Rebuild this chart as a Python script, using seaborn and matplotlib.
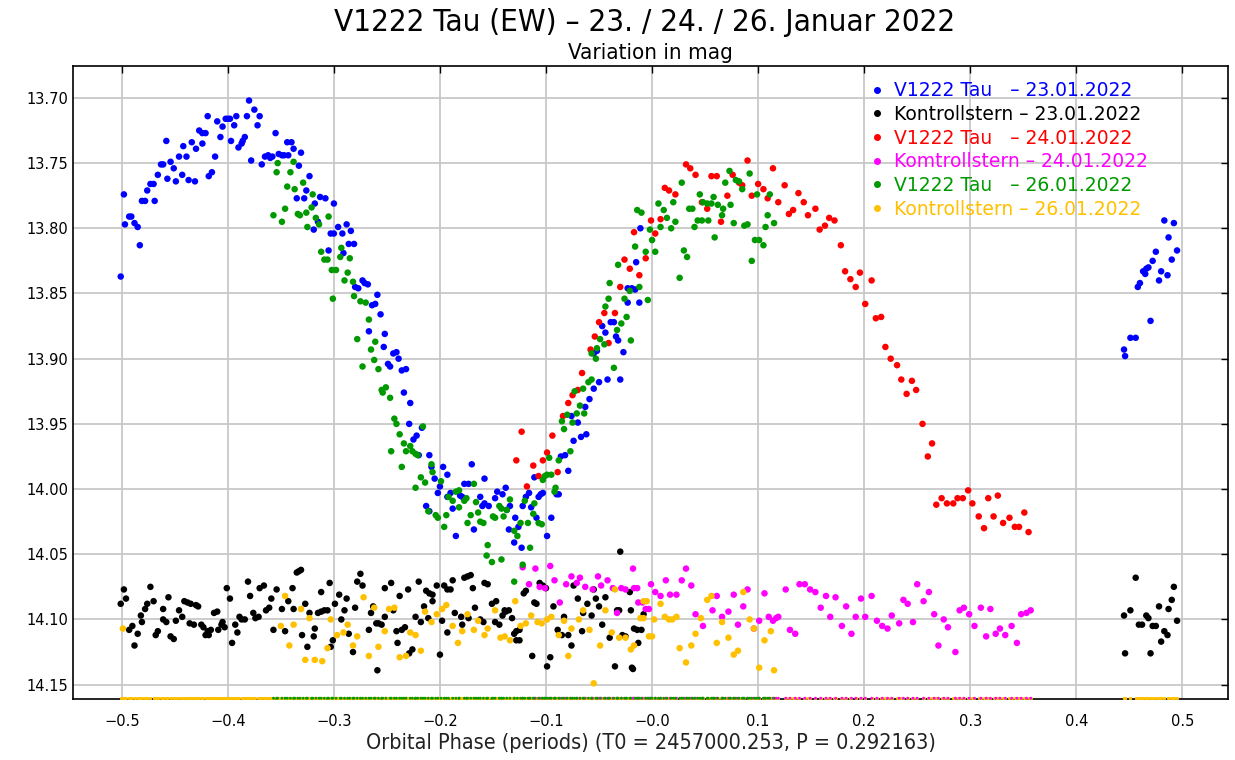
import numpy as np
import pandas as pd
import matplotlib
matplotlib.use("Agg")
import matplotlib.pyplot as plt
import seaborn as sns
from matplotlib.lines import Line2D

# (phase, mag)
tau_23 = [
    (-0.501, 13.837), (-0.498, 13.774), (-0.497, 13.797), (-0.493, 13.791), (-0.491, 13.791),
    (-0.488, 13.796), (-0.485, 13.799), (-0.483, 13.813), (-0.481, 13.779), (-0.478, 13.779),
    (-0.476, 13.771), (-0.473, 13.766), (-0.470, 13.766), (-0.469, 13.779), (-0.466, 13.759),
    (-0.463, 13.751), (-0.461, 13.751), (-0.458, 13.733), (-0.457, 13.762), (-0.454, 13.749),
    (-0.451, 13.754), (-0.449, 13.764), (-0.446, 13.745), (-0.443, 13.759), (-0.442, 13.737),
    (-0.439, 13.745), (-0.437, 13.763), (-0.434, 13.734), (-0.431, 13.764), (-0.430, 13.739),
    (-0.427, 13.725), (-0.424, 13.727), (-0.421, 13.727), (-0.424, 13.735), (-0.419, 13.714),
    (-0.418, 13.760), (-0.415, 13.757), (-0.412, 13.745), (-0.410, 13.718), (-0.407, 13.730),
    (-0.405, 13.722), (-0.402, 13.716), (-0.400, 13.716), (-0.398, 13.716), (-0.397, 13.733),
    (-0.394, 13.721), (-0.392, 13.714), (-0.390, 13.738), (-0.387, 13.735), (-0.386, 13.733),
    (-0.384, 13.730), (-0.382, 13.714), (-0.380, 13.702), (-0.378, 13.748), (-0.375, 13.709),
    (-0.372, 13.721), (-0.370, 13.714), (-0.368, 13.751), (-0.365, 13.745), (-0.362, 13.744),
    (-0.360, 13.746), (-0.358, 13.745), (-0.355, 13.727), (-0.352, 13.743), (-0.349, 13.744),
    (-0.347, 13.744), (-0.344, 13.734), (-0.340, 13.734), (-0.343, 13.744), (-0.338, 13.739),
    (-0.335, 13.777), (-0.328, 13.777), (-0.333, 13.752), (-0.331, 13.742), (-0.326, 13.771),
    (-0.323, 13.760), (-0.319, 13.801), (-0.318, 13.781), (-0.315, 13.795), (-0.313, 13.776),
    (-0.308, 13.777), (-0.305, 13.817), (-0.303, 13.804), (-0.300, 13.804), (-0.300, 13.781),
    (-0.296, 13.799), (-0.292, 13.804), (-0.291, 13.819), (-0.288, 13.797), (-0.286, 13.812),
    (-0.281, 13.812), (-0.284, 13.802), (-0.280, 13.845), (-0.277, 13.846), (-0.273, 13.840),
    (-0.271, 13.842), (-0.268, 13.843), (-0.264, 13.859), (-0.261, 13.858), (-0.259, 13.851),
    (-0.256, 13.866), (-0.267, 13.879), (-0.252, 13.881), (-0.253, 13.891), (-0.244, 13.896),
    (-0.241, 13.895), (-0.239, 13.900), (-0.249, 13.904), (-0.247, 13.906), (-0.236, 13.909),
    (-0.232, 13.908), (-0.234, 13.926), (-0.228, 13.934), (-0.229, 13.950), (-0.217, 13.953),
    (-0.225, 13.962), (-0.222, 13.959), (-0.220, 13.974), (-0.210, 13.974), (-0.208, 13.983),
    (-0.205, 13.992), (-0.202, 14.003), (-0.200, 13.998), (-0.197, 13.983), (-0.193, 13.989),
    (-0.193, 14.006), (-0.190, 14.003), (-0.213, 14.013), (-0.210, 14.017), (-0.188, 14.015),
    (-0.185, 14.036), (-0.181, 14.005), (-0.179, 14.006), (-0.177, 13.996), (-0.173, 13.996),
    (-0.170, 13.981), (-0.168, 14.031), (-0.162, 14.006), (-0.160, 14.013), (-0.158, 14.011),
    (-0.158, 13.992), (-0.154, 14.013), (-0.148, 14.007), (-0.146, 14.002), (-0.141, 14.004),
    (-0.138, 13.999), (-0.137, 14.016), (-0.134, 14.013), (-0.129, 14.022), (-0.135, 14.031),
    (-0.130, 14.041), (-0.126, 14.029), (-0.123, 14.045), (-0.122, 14.013), (-0.119, 14.006),
    (-0.116, 14.003), (-0.114, 14.014), (-0.111, 13.991), (-0.109, 14.022), (-0.107, 14.006),
    (-0.105, 14.004), (-0.103, 14.003), (-0.099, 14.036), (-0.095, 14.022), (-0.090, 14.004),
    (-0.088, 14.004), (-0.086, 13.975), (-0.082, 13.974), (-0.079, 13.986), (-0.074, 13.963),
    (-0.070, 13.949), (-0.067, 13.960), (-0.062, 13.958), (-0.076, 13.944), (-0.063, 13.937),
    (-0.059, 13.931), (-0.055, 13.923), (-0.050, 13.918), (-0.042, 13.916), (-0.030, 13.916),
    (-0.011, 13.800), (-0.015, 13.826), (-0.023, 13.846), (-0.019, 13.846), (-0.016, 13.847),
    (-0.023, 13.857), (-0.012, 13.857), (-0.039, 13.872), (-0.036, 13.872), (-0.047, 13.875),
    (-0.044, 13.880), (-0.034, 13.883), (-0.032, 13.886), (-0.027, 13.895), (-0.055, 13.896),
    (-0.052, 13.894),
    (0.483, 13.794), (0.492, 13.796), (0.487, 13.807), (0.495, 13.817), (0.475, 13.818),
    (0.490, 13.824), (0.472, 13.825), (0.468, 13.830), (0.466, 13.831), (0.463, 13.833),
    (0.465, 13.835), (0.480, 13.833), (0.486, 13.836), (0.478, 13.840), (0.460, 13.842),
    (0.458, 13.845), (0.470, 13.871), (0.451, 13.884), (0.456, 13.884), (0.445, 13.893),
    (0.446, 13.898),
]

check_23 = [
    (-0.501, 14.088), (-0.498, 14.077), (-0.496, 14.084), (-0.493, 14.108), (-0.490, 14.105),
    (-0.488, 14.120), (-0.485, 14.111), (-0.482, 14.097), (-0.481, 14.102), (-0.478, 14.092),
    (-0.476, 14.088), (-0.473, 14.075), (-0.470, 14.086), (-0.468, 14.112), (-0.466, 14.109),
    (-0.461, 14.092), (-0.461, 14.100), (-0.458, 14.102), (-0.456, 14.083), (-0.454, 14.113),
    (-0.451, 14.115), (-0.449, 14.101), (-0.446, 14.093), (-0.443, 14.098), (-0.441, 14.086),
    (-0.438, 14.087), (-0.435, 14.088), (-0.436, 14.103), (-0.432, 14.104), (-0.430, 14.089),
    (-0.428, 14.090), (-0.425, 14.104), (-0.423, 14.106), (-0.421, 14.112), (-0.418, 14.112),
    (-0.419, 14.109), (-0.416, 14.108), (-0.413, 14.095), (-0.410, 14.094), (-0.409, 14.108),
    (-0.406, 14.104), (-0.405, 14.102), (-0.403, 14.106), (-0.401, 14.076), (-0.398, 14.084),
    (-0.396, 14.118), (-0.393, 14.104), (-0.391, 14.110), (-0.389, 14.098), (-0.387, 14.100),
    (-0.384, 14.100), (-0.381, 14.071), (-0.379, 14.082), (-0.376, 14.095), (-0.374, 14.099),
    (-0.371, 14.098), (-0.370, 14.076), (-0.366, 14.074), (-0.364, 14.093), (-0.361, 14.091),
    (-0.359, 14.084), (-0.357, 14.108), (-0.354, 14.077), (-0.349, 14.092), (-0.346, 14.109),
    (-0.343, 14.086), (-0.339, 14.076), (-0.338, 14.092), (-0.335, 14.064), (-0.333, 14.063),
    (-0.331, 14.062), (-0.330, 14.112), (-0.327, 14.088), (-0.325, 14.121), (-0.323, 14.095),
    (-0.319, 14.113), (-0.318, 14.107), (-0.315, 14.095), (-0.312, 14.094), (-0.309, 14.093),
    (-0.306, 14.093), (-0.312, 14.079), (-0.304, 14.072), (-0.303, 14.121), (-0.301, 14.116),
    (-0.299, 14.088), (-0.295, 14.081), (-0.293, 14.100), (-0.290, 14.093), (-0.288, 14.084),
    (-0.286, 14.111), (-0.282, 14.125), (-0.280, 14.091), (-0.278, 14.071), (-0.275, 14.065),
    (-0.273, 14.074), (-0.267, 14.108), (-0.265, 14.095), (-0.263, 14.090), (-0.260, 14.103),
    (-0.258, 14.103), (-0.255, 14.104), (-0.259, 14.139), (-0.252, 14.076), (-0.246, 14.072),
    (-0.252, 14.098), (-0.244, 14.093), (-0.241, 14.109), (-0.236, 14.108), (-0.233, 14.106),
    (-0.240, 14.118), (-0.238, 14.082), (-0.230, 14.077), (-0.229, 14.126), (-0.226, 14.123),
    (-0.223, 14.098), (-0.220, 14.071), (-0.218, 14.102), (-0.215, 14.090), (-0.213, 14.078),
    (-0.210, 14.080), (-0.207, 14.081), (-0.211, 14.099), (-0.207, 14.086), (-0.203, 14.074),
    (-0.200, 14.127), (-0.198, 14.101), (-0.196, 14.074), (-0.193, 14.077), (-0.190, 14.077),
    (-0.193, 14.110), (-0.188, 14.070), (-0.186, 14.095), (-0.180, 14.098), (-0.179, 14.104),
    (-0.177, 14.068), (-0.174, 14.067), (-0.171, 14.066), (-0.173, 14.099), (-0.169, 14.076),
    (-0.167, 14.091), (-0.162, 14.100), (-0.159, 14.102), (-0.158, 14.072), (-0.155, 14.073),
    (-0.151, 14.088), (-0.147, 14.086), (-0.148, 14.102), (-0.144, 14.104), (-0.141, 14.097),
    (-0.139, 14.093), (-0.138, 14.094), (-0.135, 14.093), (-0.132, 14.099), (-0.128, 14.116),
    (-0.125, 14.116), (-0.130, 14.111), (-0.128, 14.109), (-0.125, 14.108), (-0.121, 14.080),
    (-0.119, 14.078), (-0.113, 14.128), (-0.111, 14.087), (-0.109, 14.088), (-0.106, 14.072),
    (-0.103, 14.074), (-0.100, 14.076), (-0.099, 14.136), (-0.096, 14.129), (-0.093, 14.090),
    (-0.089, 14.108), (-0.085, 14.112), (-0.079, 14.112), (-0.076, 14.120), (-0.083, 14.098),
    (-0.074, 14.074), (-0.070, 14.084), (-0.066, 14.109), (-0.065, 14.095), (-0.061, 14.088),
    (-0.057, 14.097), (-0.055, 14.077), (-0.053, 14.084), (-0.050, 14.090), (-0.047, 14.104),
    (-0.044, 14.083), (-0.040, 14.114), (-0.035, 14.136), (-0.033, 14.093), (-0.031, 14.093),
    (-0.025, 14.113), (-0.021, 14.079), (-0.020, 14.093), (-0.018, 14.138), (-0.014, 14.108),
    (-0.010, 14.108), (-0.013, 14.118), (-0.008, 14.096), (-0.030, 14.048), (-0.028, 14.112),
    (-0.017, 14.107), (-0.019, 14.137),
    (0.456, 14.068), (0.445, 14.097), (0.451, 14.093), (0.446, 14.126), (0.459, 14.104),
    (0.462, 14.104), (0.466, 14.097), (0.468, 14.099), (0.470, 14.126), (0.472, 14.105),
    (0.475, 14.105), (0.478, 14.090), (0.480, 14.117), (0.483, 14.109), (0.486, 14.112),
    (0.487, 14.092), (0.490, 14.085), (0.492, 14.075), (0.495, 14.101),
]

tau_24 = [
    (-0.123, 13.956), (-0.128, 13.978), (-0.118, 13.998), (-0.112, 13.982), (-0.107, 13.990),
    (-0.103, 13.978), (-0.099, 13.972), (-0.094, 13.959), (-0.089, 13.987), (-0.084, 13.944),
    (-0.079, 13.934), (-0.075, 13.928), (-0.070, 13.924), (-0.066, 13.911), (-0.058, 13.893),
    (-0.054, 13.883), (-0.050, 13.872), (-0.045, 13.865), (-0.041, 13.888), (-0.035, 13.865),
    (-0.030, 13.845), (-0.026, 13.824), (-0.021, 13.831), (-0.017, 13.803), (-0.012, 13.836),
    (-0.006, 13.823), (-0.001, 13.794), (0.003, 13.804), (0.008, 13.793), (0.012, 13.769),
    (0.016, 13.771), (0.022, 13.774), (0.032, 13.751), (0.036, 13.754), (0.041, 13.759),
    (0.047, 13.780), (0.052, 13.785), (0.056, 13.760), (0.061, 13.760), (0.065, 13.795),
    (0.071, 13.775), (0.076, 13.759), (0.082, 13.765), (0.085, 13.767), (0.090, 13.748),
    (0.094, 13.775), (0.100, 13.766), (0.105, 13.770), (0.109, 13.777), (0.114, 13.754),
    (0.119, 13.780), (0.125, 13.767), (0.129, 13.789), (0.133, 13.786), (0.138, 13.773),
    (0.143, 13.780), (0.147, 13.790), (0.154, 13.785), (0.158, 13.801), (0.163, 13.798),
    (0.167, 13.792), (0.172, 13.794), (0.178, 13.813), (0.182, 13.833), (0.187, 13.839),
    (0.192, 13.845), (0.196, 13.834), (0.207, 13.840), (0.201, 13.858), (0.211, 13.869),
    (0.216, 13.868), (0.220, 13.891), (0.225, 13.900), (0.231, 13.905), (0.235, 13.916),
    (0.240, 13.927), (0.245, 13.917), (0.249, 13.924), (0.255, 13.950), (0.264, 13.965),
    (0.260, 13.975), (0.268, 14.012), (0.273, 14.007), (0.278, 14.011), (0.284, 14.011),
    (0.288, 14.007), (0.293, 14.007), (0.298, 14.001), (0.302, 14.011), (0.308, 14.021),
    (0.313, 14.030), (0.317, 14.007), (0.322, 14.021), (0.326, 14.005), (0.331, 14.026),
    (0.337, 14.022), (0.342, 14.029), (0.346, 14.029), (0.351, 14.018), (0.355, 14.033),
]

check_24 = [
    (-0.122, 14.060), (-0.110, 14.061), (-0.096, 14.059), (-0.116, 14.073), (-0.106, 14.075),
    (-0.101, 14.076), (-0.092, 14.070), (-0.087, 14.087), (-0.081, 14.073), (-0.076, 14.067),
    (-0.071, 14.072), (-0.068, 14.068), (-0.063, 14.075), (-0.056, 14.077), (-0.051, 14.067),
    (-0.048, 14.074), (-0.042, 14.070), (-0.037, 14.076), (-0.033, 14.095), (-0.029, 14.076),
    (-0.025, 14.077), (-0.018, 14.061), (-0.014, 14.076), (-0.009, 14.087), (-0.003, 14.092),
    (-0.017, 14.076), (-0.013, 14.087), (-0.006, 14.092), (-0.001, 14.073), (0.003, 14.079),
    (0.008, 14.082), (0.013, 14.070), (0.017, 14.081), (0.023, 14.081), (0.028, 14.070),
    (0.032, 14.061), (0.037, 14.074), (0.041, 14.096), (0.048, 14.105), (0.057, 14.093),
    (0.061, 14.082), (0.066, 14.098), (0.072, 14.094), (0.077, 14.081), (0.081, 14.104),
    (0.086, 14.090), (0.090, 14.077), (0.096, 14.107), (0.101, 14.101), (0.106, 14.080),
    (0.110, 14.098), (0.114, 14.101), (0.117, 14.099), (0.119, 14.098), (0.126, 14.077),
    (0.130, 14.108), (0.135, 14.111), (0.139, 14.073), (0.144, 14.073), (0.149, 14.077),
    (0.154, 14.079), (0.159, 14.091), (0.164, 14.082), (0.168, 14.098), (0.173, 14.083),
    (0.179, 14.105), (0.183, 14.090), (0.188, 14.111), (0.192, 14.098), (0.197, 14.084),
    (0.201, 14.098), (0.207, 14.082), (0.212, 14.101), (0.217, 14.105), (0.222, 14.107),
    (0.226, 14.097), (0.233, 14.103), (0.237, 14.085), (0.241, 14.088), (0.246, 14.102),
    (0.250, 14.073), (0.256, 14.086), (0.261, 14.079), (0.266, 14.096), (0.270, 14.120),
    (0.275, 14.100), (0.279, 14.106), (0.286, 14.125), (0.290, 14.093), (0.294, 14.091),
    (0.299, 14.096), (0.304, 14.105), (0.310, 14.091), (0.315, 14.113), (0.319, 14.092),
    (0.324, 14.111), (0.328, 14.107), (0.333, 14.112), (0.339, 14.105), (0.344, 14.118),
    (0.348, 14.096), (0.353, 14.095), (0.357, 14.093),
]

tau_26 = [
    (-0.357, 13.790), (-0.354, 13.757), (-0.353, 13.750), (-0.349, 13.795), (-0.346, 13.785),
    (-0.344, 13.768), (-0.341, 13.757), (-0.338, 13.749), (-0.337, 13.770), (-0.334, 13.789),
    (-0.332, 13.790), (-0.329, 13.765), (-0.326, 13.788), (-0.325, 13.799), (-0.321, 13.784),
    (-0.320, 13.774), (-0.317, 13.792), (-0.314, 13.797), (-0.312, 13.818), (-0.309, 13.824),
    (-0.306, 13.824), (-0.305, 13.791), (-0.302, 13.832), (-0.298, 13.832), (-0.301, 13.854),
    (-0.294, 13.822), (-0.293, 13.815), (-0.290, 13.840), (-0.287, 13.834), (-0.285, 13.823),
    (-0.282, 13.841), (-0.281, 13.852), (-0.275, 13.856), (-0.270, 13.857), (-0.267, 13.870),
    (-0.278, 13.885), (-0.273, 13.906), (-0.265, 13.893), (-0.261, 13.887), (-0.262, 13.901),
    (-0.258, 13.908), (-0.255, 13.924), (-0.251, 13.922), (-0.254, 13.926), (-0.247, 13.930),
    (-0.243, 13.946), (-0.241, 13.950), (-0.216, 13.952), (-0.246, 13.971), (-0.238, 13.958),
    (-0.236, 13.983), (-0.232, 13.971), (-0.228, 13.967), (-0.226, 13.971), (-0.223, 13.973),
    (-0.221, 13.974), (-0.234, 13.965), (-0.223, 13.999), (-0.218, 13.991), (-0.214, 13.995),
    (-0.211, 14.017), (-0.208, 13.981), (-0.207, 13.987), (-0.204, 14.020), (-0.202, 14.022),
    (-0.199, 13.994), (-0.196, 14.029), (-0.194, 14.020), (-0.192, 14.006), (-0.188, 14.009),
    (-0.185, 14.002), (-0.182, 14.001), (-0.182, 14.014), (-0.177, 14.009), (-0.175, 14.007),
    (-0.174, 14.026), (-0.171, 14.020), (-0.168, 13.996), (-0.166, 14.010), (-0.164, 14.018),
    (-0.162, 14.025), (-0.159, 14.026), (-0.155, 14.043), (-0.156, 14.051), (-0.151, 14.056),
    (-0.150, 14.021), (-0.148, 14.022), (-0.144, 14.013), (-0.142, 14.015), (-0.142, 14.054),
    (-0.140, 14.021), (-0.137, 14.016), (-0.134, 14.008), (-0.130, 14.032), (-0.127, 14.036),
    (-0.122, 14.058), (-0.124, 14.026), (-0.120, 14.009), (-0.115, 14.045), (-0.117, 14.026),
    (-0.112, 14.019), (-0.111, 14.011), (-0.107, 14.026), (-0.104, 14.027), (-0.103, 13.993),
    (-0.101, 13.990), (-0.099, 13.989), (-0.095, 13.989), (-0.097, 13.976), (-0.092, 14.002),
    (-0.091, 13.999), (-0.088, 13.978), (-0.085, 13.948), (-0.083, 13.954), (-0.080, 13.943),
    (-0.077, 13.971), (-0.075, 13.949), (-0.071, 13.942), (-0.068, 13.936), (-0.064, 13.942),
    (-0.060, 13.918), (-0.057, 13.916), (-0.073, 13.925), (-0.065, 13.923), (-0.130, 14.071),
    (-0.053, 13.900), (-0.057, 13.896), (-0.052, 13.892), (-0.049, 13.885), (-0.045, 13.889),
    (-0.044, 13.860), (-0.041, 13.854), (-0.036, 13.907), (-0.040, 13.842), (-0.033, 13.878),
    (-0.032, 13.828), (-0.029, 13.873), (-0.026, 13.854), (-0.024, 13.868), (-0.021, 13.848),
    (-0.020, 13.886), (-0.016, 13.814), (-0.014, 13.786), (-0.010, 13.788), (-0.012, 13.845),
    (-0.006, 13.818), (-0.004, 13.855), (-0.002, 13.801), (0.000, 13.809), (0.003, 13.818),
    (0.006, 13.781), (0.008, 13.799), (0.011, 13.786), (0.014, 13.792), (0.018, 13.800),
    (0.020, 13.780), (0.022, 13.795), (0.026, 13.838), (0.028, 13.765), (0.030, 13.817),
    (0.033, 13.822), (0.035, 13.785), (0.038, 13.785), (0.040, 13.799), (0.043, 13.794),
    (0.047, 13.794), (0.053, 13.794), (0.045, 13.774), (0.048, 13.780), (0.052, 13.781),
    (0.056, 13.781), (0.058, 13.776), (0.059, 13.807), (0.062, 13.782), (0.067, 13.785),
    (0.066, 13.790), (0.069, 13.765), (0.073, 13.756), (0.074, 13.782), (0.077, 13.796),
    (0.079, 13.763), (0.082, 13.764), (0.085, 13.770), (0.087, 13.798), (0.090, 13.797),
    (0.092, 13.758), (0.094, 13.825), (0.097, 13.809), (0.101, 13.809), (0.105, 13.813),
    (0.099, 13.774), (0.107, 13.799), (0.109, 13.790), (0.111, 13.774), (0.115, 13.796),
]

check_26 = [
    (-0.499, 14.107), (-0.346, 14.082), (-0.350, 14.105), (-0.342, 14.120), (-0.338, 14.104),
    (-0.331, 14.092), (-0.327, 14.131), (-0.323, 14.099), (-0.318, 14.131), (-0.311, 14.132),
    (-0.306, 14.122), (-0.303, 14.100), (-0.297, 14.112), (-0.291, 14.110), (-0.287, 14.104),
    (-0.282, 14.120), (-0.278, 14.113), (-0.272, 14.083), (-0.267, 14.128), (-0.262, 14.091),
    (-0.258, 14.121), (-0.252, 14.109), (-0.248, 14.092), (-0.243, 14.091), (-0.238, 14.129),
    (-0.232, 14.128), (-0.228, 14.110), (-0.223, 14.112), (-0.218, 14.124), (-0.214, 14.094),
    (-0.208, 14.102), (-0.203, 14.096), (-0.198, 14.092), (-0.194, 14.089), (-0.188, 14.105),
    (-0.183, 14.118), (-0.179, 14.109), (-0.174, 14.096), (-0.168, 14.108), (-0.164, 14.101),
    (-0.158, 14.112), (-0.155, 14.107), (-0.148, 14.093), (-0.143, 14.114), (-0.139, 14.113),
    (-0.134, 14.116), (-0.129, 14.086), (-0.124, 14.105), (-0.119, 14.103), (-0.114, 14.097),
    (-0.108, 14.102), (-0.104, 14.103), (-0.099, 14.100), (-0.095, 14.098), (-0.088, 14.112),
    (-0.083, 14.101), (-0.079, 14.128), (-0.076, 14.107), (-0.069, 14.100), (-0.065, 14.093),
    (-0.059, 14.108), (-0.055, 14.149), (-0.049, 14.120), (-0.044, 14.093), (-0.038, 14.110),
    (-0.035, 14.077), (-0.031, 14.114), (-0.025, 14.114), (-0.020, 14.123), (-0.017, 14.120),
    (-0.008, 14.099), (-0.005, 14.086), (0.000, 14.113), (-0.011, 14.099), (-0.008, 14.086),
    (-0.003, 14.113), (0.002, 14.100), (0.008, 14.088), (0.012, 14.098), (0.016, 14.100),
    (0.019, 14.100), (0.023, 14.098), (0.026, 14.122), (0.032, 14.133), (0.037, 14.120),
    (0.041, 14.111), (0.046, 14.099), (0.052, 14.085), (0.056, 14.082), (0.061, 14.118),
    (0.066, 14.102), (0.072, 14.114), (0.077, 14.127), (0.081, 14.124), (0.086, 14.079),
    (0.092, 14.100), (0.096, 14.107), (0.101, 14.137), (0.106, 14.116), (0.112, 14.109),
    (0.115, 14.139),
]

labels = [
    "V1222 Tau   \u2013 23.01.2022",
    "Kontrollstern \u2013 23.01.2022",
    "V1222 Tau   \u2013 24.01.2022",
    "Komtrollstern \u2013 24.01.2022",
    "V1222 Tau   \u2013 26.01.2022",
    "Kontrollstern \u2013 26.01.2022",
]
colors = ["#0000ff", "#000000", "#ff0000", "#ff00ff", "#009900", "#ffc000"]
series = [tau_23, check_23, tau_24, check_24, tau_26, check_26]

frames = []
for name, pts in zip(labels, series):
    df = pd.DataFrame(pts, columns=["phase", "mag"])
    df["series"] = name
    frames.append(df)
data = pd.concat(frames, ignore_index=True)

sns.set_style("white")
plt.rcParams["font.family"] = ["DejaVu Sans"]
plt.rcParams["text.color"] = "black"
plt.rcParams["axes.labelcolor"] = "black"

fig, ax = plt.subplots(figsize=(12.35, 7.6), dpi=100)
fig.subplots_adjust(left=0.0591, right=0.9943, top=0.9132, bottom=0.0803)

y_bottom, y_top = 14.161, 13.6755
ax.set_xlim(-0.546, 0.543)
ax.set_ylim(y_bottom, y_top)

# points that fall off the scale sit on the bottom edge
strip = data.copy()
strip["mag"] = y_bottom - 0.0006
sns.scatterplot(data=strip, x="phase", y="mag", color="#ffc000", s=5,
                linewidth=0, legend=False, ax=ax, zorder=3, clip_on=False)
sns.scatterplot(data=strip[strip["series"].isin([labels[3], labels[4]])],
                x="phase", y="mag", hue="series", hue_order=[labels[3], labels[4]],
                palette=[colors[3], colors[4]], s=4, linewidth=0, legend=False,
                ax=ax, zorder=3, clip_on=False)

sns.scatterplot(data=data, x="phase", y="mag", hue="series", hue_order=labels,
                palette=colors, s=22, linewidth=0, legend=False, ax=ax, zorder=4)

ax.set_xticks(np.round(np.arange(-0.5, 0.51, 0.1), 1))
ax.set_yticks(np.round(np.arange(13.70, 14.151, 0.05), 2))
ax.xaxis.set_major_formatter(lambda v, p: f"{v:.1f}".replace("-", "\u2212"))
ax.yaxis.set_major_formatter(lambda v, p: f"{v:.2f}")
ax.grid(True, color="#c8c8c8", linewidth=1.3)
ax.set_axisbelow(True)
ax.tick_params(direction="in", top=True, right=True, length=5, width=1,
               labelsize=10.5, colors="black")
ax.tick_params(axis="x", pad=11)
for sp in ax.spines.values():
    sp.set_color("black")
    sp.set_linewidth(1.2)

ax.set_xlabel("Orbital Phase (periods) (T0 = 2457000.253, P = 0.292163)",
              fontsize=15.5, fontstretch="condensed", labelpad=3, color="#222222")
ax.set_ylabel("")
ax.set_title("Variation in mag", fontsize=16, fontstretch="condensed", pad=5,
             color="black")
fig.text(0.522, 0.970, "V1222 Tau (EW) \u2013 23. / 24. / 26. Januar 2022",
         ha="center", va="center", fontsize=22.5, fontstretch="condensed",
         color="black")

handles = [Line2D([], [], marker="o", ls="", color=c, markersize=4) for c in colors]
ax.legend(handles, labels, loc="upper right", bbox_to_anchor=(0.9307, 0.976),
          frameon=False, labelcolor=colors, fontsize=13.5, handlelength=0.6,
          handletextpad=0.6, labelspacing=0.25, borderpad=0, borderaxespad=0)

fig.savefig("out.png", dpi=100)
